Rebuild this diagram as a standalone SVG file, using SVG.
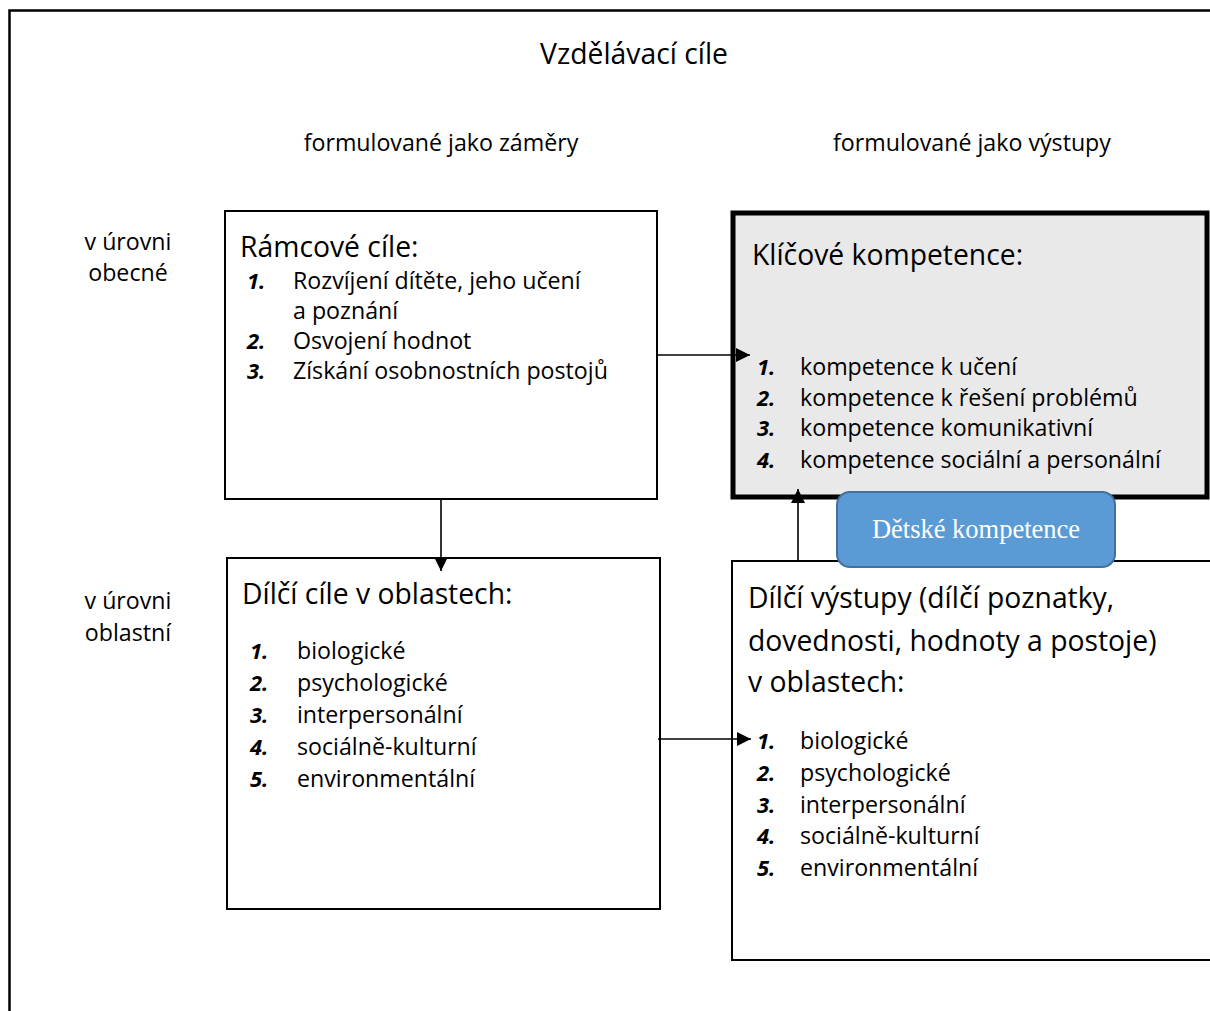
<svg xmlns="http://www.w3.org/2000/svg" width="1210" height="1011" viewBox="0 0 1210 1011">
<style>
text{font-family:"Open Sans","Liberation Sans",Arial,sans-serif;fill:#000}
.t{font-size:28.3px}
.s{font-size:23.2px}
.h{font-size:28.3px}
.i{font-size:23.2px}
.n{font-size:22px;font-weight:bold;font-style:italic}
.box{fill:#fff;stroke:#000;stroke-width:2}
.c{stroke:#000;stroke-width:1.6;fill:none}
</style>
<defs>
<marker id="ah2" viewBox="0 0 10 10" refX="10" refY="5" markerWidth="14" markerHeight="14" markerUnits="userSpaceOnUse" orient="auto">
<path d="M0,0 L10,5 L0,10 Z" fill="#000"/>
</marker>
</defs>
<rect width="1210" height="1011" fill="#fff"/>
<g id="frame">
<path d="M1210,10.5 H9.5 V1011" fill="none" stroke="#000" stroke-width="2.5"/>
</g>
<g id="labels">
<text class="t" x="634" y="64" text-anchor="middle">Vzdělávací cíle</text>
<text class="s" x="441" y="151" text-anchor="middle">formulované jako záměry</text>
<text class="s" x="972" y="151" text-anchor="middle">formulované jako výstupy</text>
<text class="s" x="128" y="250" text-anchor="middle">v úrovni</text>
<text class="s" x="128" y="281" text-anchor="middle">obecné</text>
<text class="s" x="128" y="609" text-anchor="middle">v úrovni</text>
<text class="s" x="128" y="641" text-anchor="middle">oblastní</text>
</g>
<g id="ramcove">
<rect class="box" x="225" y="211" width="432" height="288"/>
<text class="h" x="240" y="257">Rámcové cíle:</text>
<text class="n" x="247" y="289">1.</text>
<text class="i" x="293" y="289">Rozvíjení dítěte, jeho učení</text>
<text class="i" x="293" y="319">a poznání</text>
<text class="n" x="247" y="349">2.</text>
<text class="i" x="293" y="349">Osvojení hodnot</text>
<text class="n" x="247" y="379">3.</text>
<text class="i" x="293" y="379">Získání osobnostních postojů</text>
</g>
<g id="klicove">
<rect x="733" y="213" width="474" height="284" fill="#e9e9e9" stroke="#000" stroke-width="5"/>
<text class="h" x="752" y="265">Klíčové kompetence:</text>
<text class="n" x="757" y="375">1.</text>
<text class="i" x="800" y="375">kompetence k učení</text>
<text class="n" x="757" y="406">2.</text>
<text class="i" x="800" y="406">kompetence k řešení problémů</text>
<text class="n" x="757" y="436">3.</text>
<text class="i" x="800" y="436">kompetence komunikativní</text>
<text class="n" x="757" y="468">4.</text>
<text class="i" x="800" y="468">kompetence sociální a personální</text>
</g>
<g id="dilci-cile">
<rect class="box" x="227" y="558" width="433" height="351"/>
<text class="h" x="242" y="604">Dílčí cíle v oblastech:</text>
<text class="n" x="250" y="659">1.</text>
<text class="i" x="297" y="659">biologické</text>
<text class="n" x="250" y="691">2.</text>
<text class="i" x="297" y="691">psychologické</text>
<text class="n" x="250" y="723">3.</text>
<text class="i" x="297" y="723">interpersonální</text>
<text class="n" x="250" y="755">4.</text>
<text class="i" x="297" y="755">sociálně-kulturní</text>
<text class="n" x="250" y="787">5.</text>
<text class="i" x="297" y="787">environmentální</text>
</g>
<g id="dilci-vystupy">
<path d="M1211,561 H732 V960 H1211" class="box"/>
<text class="h" x="748" y="608">Dílčí výstupy (dílčí poznatky,</text>
<text class="h" x="748" y="651">dovednosti, hodnoty a postoje)</text>
<text class="h" x="748" y="692">v oblastech:</text>
<text class="n" x="757" y="749">1.</text>
<text class="i" x="800" y="749">biologické</text>
<text class="n" x="757" y="781">2.</text>
<text class="i" x="800" y="781">psychologické</text>
<text class="n" x="757" y="813">3.</text>
<text class="i" x="800" y="813">interpersonální</text>
<text class="n" x="757" y="844">4.</text>
<text class="i" x="800" y="844">sociálně-kulturní</text>
<text class="n" x="757" y="876">5.</text>
<text class="i" x="800" y="876">environmentální</text>
</g>
<g id="connectors">
<line class="c" x1="657" y1="355" x2="750" y2="355" marker-end="url(#ah2)"/>
<line class="c" x1="658" y1="739" x2="751" y2="739" marker-end="url(#ah2)"/>
<line class="c" x1="441" y1="499" x2="441" y2="571" marker-end="url(#ah2)"/>
<line class="c" x1="798" y1="561" x2="798" y2="489" marker-end="url(#ah2)"/>
</g>
<g id="detske">
<rect x="837" y="492" width="278" height="75" rx="13" fill="#5b9bd5" stroke="#41719c" stroke-width="2"/>
<text x="976" y="538" text-anchor="middle" style="font-family:'Liberation Serif','Times New Roman',serif;font-size:26.5px;fill:#fff">Dětské kompetence</text>
</g>
</svg>
